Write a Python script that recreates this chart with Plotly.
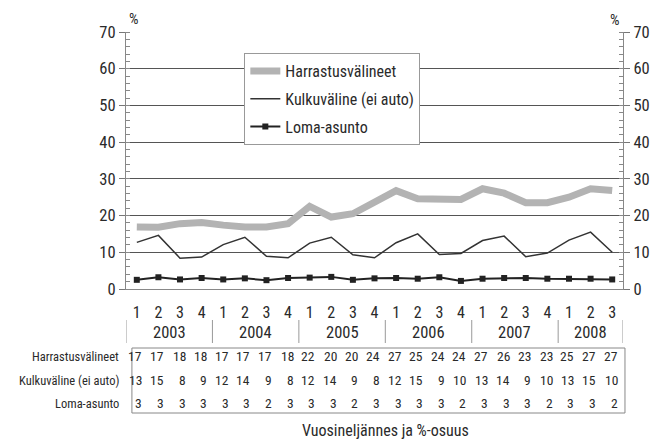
import plotly.graph_objects as go

# ---- data ----
quarters = ["1", "2", "3", "4", "1", "2", "3", "4", "1", "2", "3", "4",
            "1", "2", "3", "4", "1", "2", "3", "4", "1", "2", "3"]
years = ["2003", "2004", "2005", "2006", "2007", "2008"]
year_quarters = [4, 4, 4, 4, 4, 3]

series_names = ["Harrastusvälineet", "Kulkuväline (ei auto)", "Loma-asunto"]

# plotted values
harrastus = [16.9, 16.8, 17.8, 18.1, 17.4, 16.9, 16.9, 17.8, 22.5, 19.6, 20.5, 23.7,
             26.8, 24.6, 24.4, 24.4, 27.3, 26.1, 23.5, 23.5, 25.0, 27.3, 26.8]
kulku = [12.7, 14.6, 8.4, 8.7, 12.1, 14.1, 8.9, 8.5, 12.5, 14.1, 9.3, 8.5,
         12.6, 15.0, 9.4, 9.7, 13.2, 14.4, 8.8, 9.8, 13.3, 15.5, 10.0]
loma = [2.5, 3.2, 2.6, 3.0, 2.6, 2.9, 2.4, 3.0, 3.1, 3.3, 2.5, 2.9,
        3.0, 2.8, 3.2, 2.2, 2.8, 3.0, 3.0, 2.8, 2.8, 2.8, 2.6]

# table values (rounded, as printed)
table_harrastus = [17, 17, 18, 18, 17, 17, 17, 18, 22, 20, 20, 24, 27, 25, 24, 24, 27, 26, 23, 23, 25, 27, 27]
table_kulku = [13, 15, 8, 9, 12, 14, 9, 8, 12, 14, 9, 8, 12, 15, 9, 10, 13, 14, 9, 10, 13, 15, 10]
table_loma = [3, 3, 3, 3, 3, 3, 2, 3, 3, 3, 2, 3, 3, 3, 3, 2, 3, 3, 3, 2, 3, 3, 2]

y_ticks = [0, 10, 20, 30, 40, 50, 60, 70]

# ---- layout helpers (screen pixels; page body adds an 8px offset) ----
OFF = 8
W, H = 662 - OFF, 441 - OFF
L, R, T, B = 126, 630, 32, 289  # plot area on screen
PH = B - T


def py(pix):
    return (B - pix) / PH


def px(pix):
    return (pix - L) / (R - L)


FONT = "Liberation Sans Narrow, Roboto Condensed, DejaVu Sans Condensed, Arial Narrow, sans-serif"
TXT = "#2a2a2a"

xs = list(range(len(quarters)))

fig = go.Figure()
fig.add_trace(go.Scatter(x=xs, y=harrastus, name=series_names[0], mode="lines",
                         line=dict(color="#b3b3b3", width=7), legendgroup="a"))
fig.add_trace(go.Scatter(x=xs, y=kulku, name=series_names[1], mode="lines",
                         line=dict(color="#333333", width=1.5), legendgroup="b"))
fig.add_trace(go.Scatter(x=xs, y=loma, name=series_names[2], mode="lines+markers",
                         line=dict(color="#222222", width=2),
                         marker=dict(symbol="square", size=6, color="#222222"), legendgroup="c"))
# invisible trace to drive the right-hand axis
fig.add_trace(go.Scatter(x=[xs[0]], y=[0], yaxis="y2", showlegend=False,
                         mode="markers", marker=dict(opacity=0), hoverinfo="skip"))

axis_common = dict(range=[0, 70], tickvals=y_ticks, ticks="outside", ticklen=6,
                   tickcolor="#777", showline=True, linecolor="#888", linewidth=1.2,
                   tickfont=dict(size=16.5, color=TXT, family=FONT),
                   minor=dict(dtick=2, ticks="inside", ticklen=4, tickcolor="#888", showgrid=False))

fig.update_layout(
    width=W, height=H,
    margin=dict(l=L - OFF, r=W - (R - OFF), t=T - OFF, b=H - (B - OFF)),
    paper_bgcolor="white", plot_bgcolor="white",
    font=dict(family=FONT, color=TXT),
    xaxis=dict(range=[-0.5, len(xs) - 0.5], tickvals=xs, ticktext=quarters,
               showgrid=False, zeroline=False, showline=True, linecolor="#888", linewidth=1.2,
               ticks="", ticklabelstandoff=9, tickfont=dict(size=16, color=TXT, family=FONT)),
    yaxis=dict(showgrid=True, gridcolor="#555", gridwidth=1, zeroline=False, **axis_common),
    yaxis2=dict(overlaying="y", side="right", showgrid=False, zeroline=False, **axis_common),
    legend=dict(x=px(246), y=py(53), xanchor="left", yanchor="top",
                bgcolor="white", bordercolor="#999", borderwidth=1,
                font=dict(size=16, color=TXT, family=FONT),
                itemwidth=30, tracegroupgap=4, traceorder="grouped"),
    showlegend=True,
)

annotations = []
shapes = []


def label(text, x, y, xref="paper", size=15, xanchor="center", xshift=0):
    return dict(text=text, x=x, y=y, xref=xref, yref="paper", showarrow=False,
                xanchor=xanchor, yanchor="middle", xshift=xshift,
                font=dict(size=size, color=TXT, family=FONT))


# percent signs
annotations.append(label("%", px(134), py(19), size=15))
annotations.append(label("%", px(622), py(20), size=15))

# year labels and separators
start = 0
sep_positions = [-0.5]
for yr, n in zip(years, year_quarters):
    center = start + (n - 1) / 2
    annotations.append(label(yr, center, py(332), xref="x", size=16.5))
    start += n
    sep_positions.append(start - 0.5)
for s in sep_positions:
    shapes.append(dict(type="line", x0=s, x1=s, xref="x", y0=py(320), y1=py(343), yref="paper",
                       line=dict(color="#999", width=1)))

# table
shapes.append(dict(type="rect", x0=px(132), x1=px(632), y0=py(348), y1=py(413),
                   xref="paper", yref="paper", line=dict(color="#888", width=1)))
rows = [(series_names[0], table_harrastus, 356), (series_names[1], table_kulku, 380),
        (series_names[2], table_loma, 403)]
for name, vals, ypix in rows:
    annotations.append(label(name, px(121), py(ypix), size=12.5, xanchor="right"))
    for i, v in enumerate(vals):
        annotations.append(label(str(v), i, py(ypix), xref="x", size=13.5,
                                 xanchor="right", xshift=7.5))

# axis title
annotations.append(label("Vuosineljännes ja %-osuus", px(389), py(430), size=16))

fig.update_layout(annotations=annotations, shapes=shapes)

fig.write_html("out.html")
